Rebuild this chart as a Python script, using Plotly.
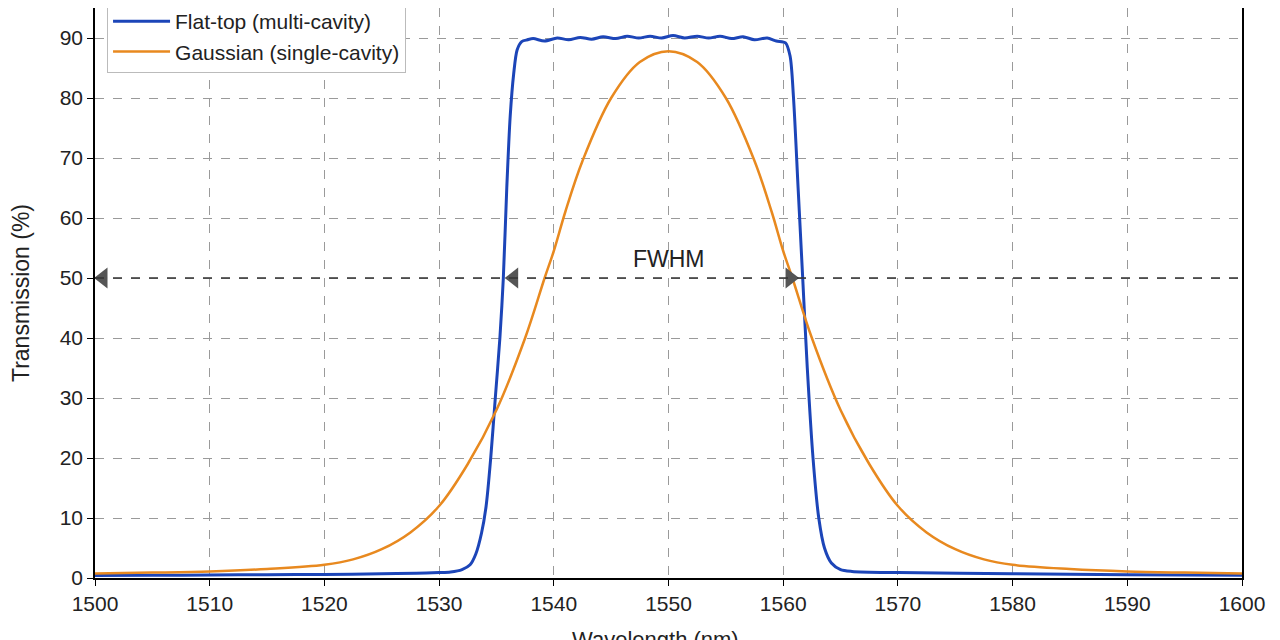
import plotly.graph_objects as go

# flat-top (multi-cavity) filter
flat_x = [1500, 1505, 1510, 1515, 1520, 1525, 1528, 1530, 1531, 1532, 1532.7, 1533.2, 1533.7,
          1534.1, 1534.5, 1534.9, 1535.3, 1535.6, 1535.9, 1536.2, 1536.5, 1536.8, 1537.2, 1537.7,
          1538.2, 1539.2, 1540.3, 1541.3, 1542.3, 1543.3, 1544.3, 1545.4, 1546.4, 1547.4, 1548.4,
          1549.4, 1550.4, 1551.4, 1552.5, 1553.5, 1554.5, 1555.5, 1556.5, 1557.5, 1558.6, 1559.4,
          1560.2, 1560.6, 1560.9, 1561.3, 1561.7, 1562.1, 1562.6, 1563.1, 1563.6, 1564.2, 1565,
          1566, 1570, 1580, 1590, 1600]
flat_y = [0.4, 0.45, 0.5, 0.55, 0.6, 0.7, 0.8, 0.9, 1.0, 1.4, 2.2, 4.0, 7.5,
          12, 20, 30, 40, 50, 65, 77, 84, 88, 89.4, 89.7,
          89.9, 89.5, 90.0, 89.7, 90.1, 89.8, 90.2, 89.9, 90.3, 90.0, 90.3,
          90.0, 90.4, 90.0, 90.3, 90.0, 90.3, 89.9, 90.2, 89.7, 90.0, 89.5,
          89.2, 87, 80, 65, 50, 35, 20, 10, 5, 2.5, 1.4,
          1.1, 0.9, 0.7, 0.55, 0.45]

# gaussian (single-cavity) filter
gauss_x = [1500, 1505, 1510, 1515, 1520, 1522.5, 1525, 1527.5, 1530, 1532.5, 1535, 1537.5,
           1539.2, 1540, 1541, 1542.5, 1545, 1547.5, 1550, 1552.5, 1555, 1557.5, 1559, 1560,
           1560.8, 1562.5, 1565, 1567.5, 1570, 1572.5, 1575, 1577.5, 1580, 1585, 1590, 1595, 1600]
gauss_y = [0.75, 0.9, 1.1, 1.5, 2.2, 3.1, 4.8, 7.6, 12, 19, 28, 40,
           50, 54.5, 61, 69.5, 80, 86, 87.8, 86, 80, 69.5, 61, 54.5,
           50, 40, 28, 19, 12, 7.6, 4.8, 3.1, 2.2, 1.5, 1.1, 0.9, 0.75]

half_level = 50
left_arrows_x = [1500.7, 1536.5]
right_arrows_x = [1560.6]
x_ticks = list(range(1500, 1601, 10))
y_ticks = list(range(0, 91, 10))

fig = go.Figure()
fig.add_shape(type="line", x0=1500, x1=1600, y0=half_level, y1=half_level,
              line=dict(color="#333333", width=1.5, dash="dash"), layer="above")
fig.add_trace(go.Scatter(x=flat_x, y=flat_y, mode="lines", name="Flat-top (multi-cavity)",
                         line=dict(color="#1c45b8", width=3, shape="spline", smoothing=0.8)))
fig.add_trace(go.Scatter(x=gauss_x, y=gauss_y, mode="lines", name="Gaussian (single-cavity)",
                         line=dict(color="#e8891f", width=2.5, shape="spline", smoothing=1)))
fig.add_trace(go.Scatter(x=left_arrows_x, y=[half_level] * len(left_arrows_x), mode="markers",
                         marker=dict(symbol="triangle-left", size=18, color="#555555"),
                         showlegend=False, hoverinfo="skip"))
fig.add_trace(go.Scatter(x=right_arrows_x, y=[half_level] * len(right_arrows_x), mode="markers",
                         marker=dict(symbol="triangle-right", size=18, color="#555555"),
                         showlegend=False, hoverinfo="skip"))
fig.add_annotation(x=1550, y=half_level, text="FWHM", showarrow=False, yshift=19,
                   font=dict(size=23, color="#222222"))
# x title sits partly below the window edge, so it is drawn as a paper annotation
fig.add_annotation(x=0.5, y=0, xref="paper", yref="paper", text="Wavelength (nm)",
                   showarrow=False, yanchor="top", yshift=-47, xshift=-13, font=dict(size=22))

# page has an 8px body margin, so the figure is sized to fit the window
fig.update_layout(
    template="none",
    width=1272, height=632,
    margin=dict(l=87, r=38, t=0, b=62, autoexpand=False),
    paper_bgcolor="white", plot_bgcolor="white",
    font=dict(family="Liberation Sans, Arial, sans-serif", size=21, color="#222222"),
    legend=dict(x=0.0105, y=0.886, xanchor="left", yanchor="bottom",
                bgcolor="white", bordercolor="#bbbbbb", borderwidth=1,
                font=dict(size=21), tracegroupgap=0, itemwidth=57),
)
fig.update_xaxes(range=[1500, 1600], tickvals=x_ticks, ticks="outside", ticklen=6,
                 tickcolor="black", showline=True, linecolor="black", linewidth=1.5, mirror=False,
                 showgrid=True, gridcolor="#9a9a9a", griddash="dash", gridwidth=1,
                 zeroline=False, automargin=False)
fig.update_yaxes(range=[0, 95], tickvals=y_ticks, ticks="outside", ticklen=6,
                 tickcolor="black", showline=True, linecolor="black", linewidth=1.5, mirror=True,
                 showgrid=True, gridcolor="#9a9a9a", griddash="dash", gridwidth=1,
                 zeroline=False, automargin=False,
                 title=dict(text="Transmission (%)", standoff=24, font=dict(size=23)))

fig.write_html("out.html")
